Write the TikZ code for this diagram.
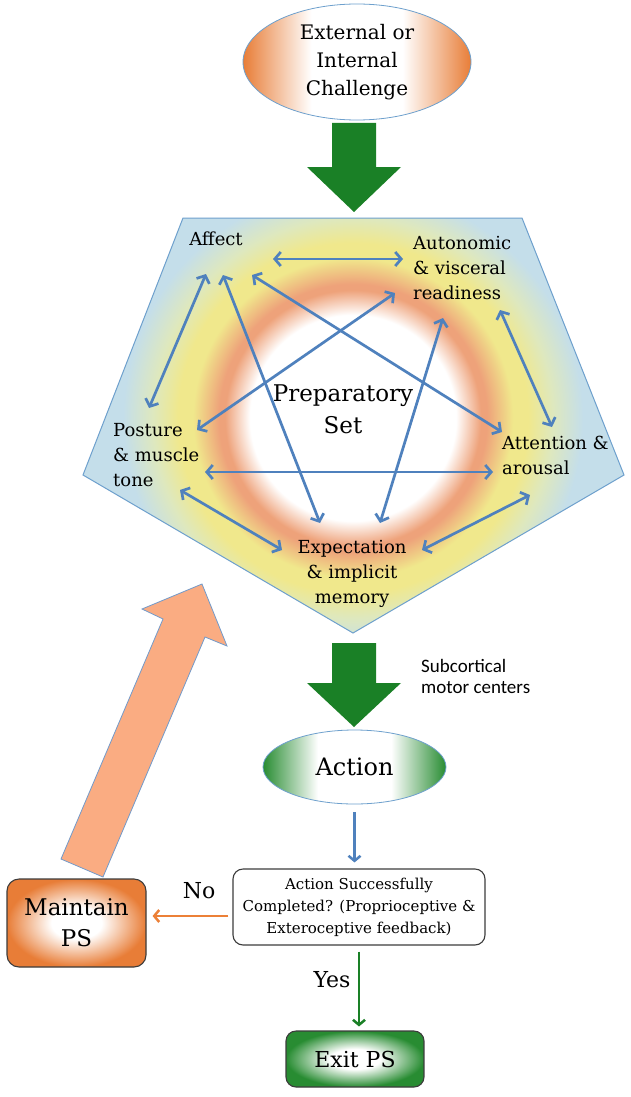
\documentclass[tikz,border=0pt]{standalone}
\usepackage{fontspec}
\setmainfont{DejaVu Serif}
\newfontfamily\calib{Carlito}
\usetikzlibrary{arrows.meta,shapes.geometric}
\definecolor{acc}{RGB}{79,129,189}
\definecolor{pentline}{RGB}{110,160,205}
\definecolor{bigarrow}{RGB}{250,172,130}
\definecolor{dgreen}{RGB}{26,128,38}
\definecolor{orng}{RGB}{232,125,55}
\definecolor{grn}{RGB}{40,140,50}
\definecolor{ringorange}{RGB}{238,162,122}
\definecolor{ringyellow}{RGB}{240,232,140}
\definecolor{ringgreen}{RGB}{222,232,190}
\definecolor{ringblue}{RGB}{196,222,234}
\definecolor{boxline}{RGB}{60,60,60}
\definecolor{noorange}{RGB}{236,128,55}
% the path bounding box covers the central 50bp of a shading
\pgfdeclarehorizontalshading{orangesides}{100bp}{color(0bp)=(orng); color(25bp)=(orng); color(40bp)=(white); color(60bp)=(white); color(75bp)=(orng); color(100bp)=(orng)}
\pgfdeclarehorizontalshading{greensides}{100bp}{color(0bp)=(grn); color(25bp)=(grn); color(40bp)=(white); color(60bp)=(white); color(75bp)=(grn); color(100bp)=(grn)}
\pgfdeclareradialshading{orangebox}{\pgfpoint{0bp}{0bp}}{color(0bp)=(white); color(9bp)=(white); color(25bp)=(orng); color(50bp)=(orng)}
\pgfdeclareradialshading{greenbox}{\pgfpoint{0bp}{0bp}}{color(0bp)=(white); color(9bp)=(white); color(25bp)=(grn); color(50bp)=(grn)}
\pgfdeclareradialshading{psring}{\pgfpoint{0bp}{0bp}}{color(0bp)=(white); color(10.3bp)=(white); color(12.8bp)=(ringorange); color(13.4bp)=(ringorange); color(16bp)=(ringyellow); color(17.5bp)=(ringyellow); color(20bp)=(ringgreen); color(23bp)=(ringblue); color(50bp)=(ringblue)}
\begin{document}
\begin{tikzpicture}[x=1pt,y=-1pt,
  lbl/.style={inner sep=0pt, font=\fontsize{18}{25}\selectfont},
  dbl/.style={acc, line width=2.7pt, {Straight Barb[length=6pt,width=14pt]}-{Straight Barb[length=6pt,width=14pt]}},
  thinarrow/.style={line width=2.5pt, -{Straight Barb[length=5pt,width=12pt]}},
  roundbox/.style={draw=boxline, line width=1.1pt, align=center, inner sep=0pt},
  blockarrow/.style={fill=dgreen}]
\useasboundingbox (0,0) rectangle (630,1097);
\fill[white] (0,0) rectangle (630,1097);
% pentagon
\coordinate (p1) at (183,218);
\coordinate (p2) at (522,218);
\coordinate (p3) at (624,475);
\coordinate (p4) at (353,633);
\coordinate (p5) at (83,475);
\fill[ringblue] (p1)--(p2)--(p3)--(p4)--(p5)--cycle;
\begin{scope}
\clip (p1)--(p2)--(p3)--(p4)--(p5)--cycle;
\shade[shading=psring] (353,418) circle[radius=250pt];
\end{scope}
\draw[pentline, line width=1pt] (p1)--(p2)--(p3)--(p4)--(p5)--cycle;
% big peach arrow
\filldraw[fill=bigarrow, draw=acc!80, line width=0.8pt] (61,859) -- (163,619) -- (142,609) -- (202,584) -- (227,646) -- (205,637) -- (103,877) -- cycle;
% green block arrows
\fill[blockarrow] (332,123) -- (376,123) -- (376,167) -- (401,167) -- (354,212) -- (307,167) -- (332,167) -- cycle;
\fill[blockarrow] (332,643) -- (376,643) -- (376,683) -- (401,683) -- (354,727) -- (307,683) -- (332,683) -- cycle;
% nodes
\node[ellipse, draw=pentline, line width=0.8pt, shading=orangesides, minimum width=228pt, minimum height=116pt, inner sep=0pt, align=center, font=\fontsize{20}{28}\selectfont] (challenge) at (357,62) {External or\\Internal\\Challenge};
\node[lbl] (affect) at (216,239) {Affect};
\node[lbl, anchor=west, align=left] (auto) at (413,268) {Autonomic\\\& visceral\\readiness};
\node[lbl, anchor=west, align=left] (posture) at (113,455) {Posture\\\& muscle\\tone};
\node[lbl, anchor=west, align=left] (attn) at (502,455) {Attention \&\\arousal};
\node[lbl, align=center] (expect) at (352,574) {Expectation\\\& implicit\\memory};
\node[inner sep=0pt, align=center, font=\fontsize{23}{32}\selectfont] (prep) at (343,409) {Preparatory\\Set};
% arrow end points
\coordinate (a1) at (273,259); \coordinate (b1) at (403,259);
\coordinate (a2) at (206,274); \coordinate (b2) at (149,408);
\coordinate (a3) at (223,275); \coordinate (b3) at (320,523);
\coordinate (a4) at (252,275); \coordinate (b4) at (502,432);
\coordinate (a5) at (395,293); \coordinate (b5) at (197,430);
\coordinate (a6) at (443,318); \coordinate (b6) at (380,523);
\coordinate (a7) at (500,310); \coordinate (b7) at (552,427);
\coordinate (a8) at (205,472); \coordinate (b8) at (493,472);
\coordinate (a9) at (180,490); \coordinate (b9) at (282,550);
\coordinate (a10) at (422,550); \coordinate (b10) at (530,495);
\foreach \i in {1,...,10} {\draw[dbl] (a\i) -- (b\i);}
% lower part
\node[font=\calib\fontsize{19}{21}\selectfont, align=left, anchor=west, inner sep=0pt] (sub) at (421,676.5) {Subcortical\\motor centers};
\node[ellipse, draw=pentline, line width=0.8pt, shading=greensides, minimum width=183pt, minimum height=74pt, inner sep=0pt, font=\fontsize{24}{28}\selectfont] (action) at (354.5,767) {Action};
\node[roundbox, fill=white, rounded corners=10pt, minimum width=252pt, minimum height=76pt, font=\fontsize{15}{22}\selectfont] (check) at (359,907) {Action Successfully\\Completed? (Proprioceptive \&\\Exteroceptive feedback)};
\node[roundbox, rounded corners=12pt, shading=orangebox, minimum width=139pt, minimum height=88pt, font=\fontsize{23}{31}\selectfont] (maintain) at (76.5,923) {Maintain\\PS};
\node[roundbox, rounded corners=10pt, shading=greenbox, minimum width=138pt, minimum height=56pt, font=\fontsize{22}{26}\selectfont] (exit) at (355,1059) {Exit PS};
\node[inner sep=0pt, font=\fontsize{22}{26}\selectfont] (no) at (199,891) {No};
\node[inner sep=0pt, font=\fontsize{22}{26}\selectfont] (yes) at (332,980) {Yes};
% connectors
\draw[thinarrow, acc, shorten <=8pt, shorten >=6pt] (action.south) -- (action.south |- check.north);
\coordinate (nos) at ([yshift=-9pt]check.west);
\draw[thinarrow, noorange, shorten <=4pt, shorten >=6pt] (nos) -- (nos -| maintain.east);
\draw[thinarrow, dgreen, shorten <=6pt, shorten >=4pt] (check.south) -- (check.south |- exit.north);
\end{tikzpicture}
\end{document}
